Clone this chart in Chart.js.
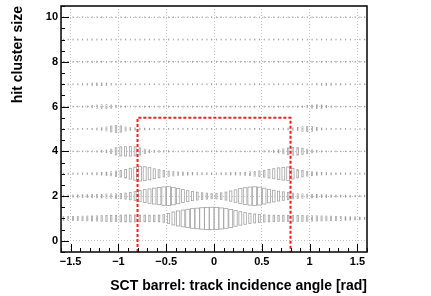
<!DOCTYPE html>
<html>
<head>
<meta charset="utf-8">
<script src="https://cdn.jsdelivr.net/npm/chart.js@4.4.1/dist/chart.umd.min.js"></script>
<style>
  body { margin: 0; background: #fff; }
  canvas { display: block; }
</style>
</head>
<body>
<canvas id="chart" width="431" height="296"></canvas>
<script>
// binning of the track incidence angle axis
const binLow = -1.6;
const binWidth = 0.05;

// box size (fraction of a full cell) per cluster size row, one value per angle bin
const size1 = [0.16, 0.17, 0.18, 0.19, 0.2, 0.21, 0.22, 0.23, 0.25, 0.26, 0.27, 0.28, 0.3, 0.31, 0.31, 0.31,
  0.3, 0.3, 0.29, 0.29, 0.3, 0.34, 0.45, 0.58, 0.67, 0.75, 0.82, 0.88, 0.92, 0.96, 0.99, 1.0,
  0.98, 0.94, 0.88, 0.8, 0.7, 0.6, 0.52, 0.46, 0.4, 0.35, 0.32, 0.3, 0.29, 0.28, 0.28, 0.28,
  0.27, 0.27, 0.26, 0.25, 0.24, 0.23, 0.22, 0.21, 0.2, 0.18, 0.17, 0.16, 0.15, 0.13, 0.12, 0.1];
const size2 = [0.08, 0.09, 0.1, 0.11, 0.12, 0.13, 0.14, 0.15, 0.16, 0.18, 0.19, 0.21, 0.24, 0.27, 0.33, 0.4,
  0.5, 0.58, 0.64, 0.71, 0.77, 0.82, 0.84, 0.78, 0.68, 0.58, 0.48, 0.41, 0.35, 0.3, 0.27, 0.24,
  0.25, 0.29, 0.36, 0.46, 0.56, 0.67, 0.75, 0.81, 0.83, 0.8, 0.71, 0.6, 0.52, 0.44, 0.38, 0.32,
  0.25, 0.21, 0.19, 0.17, 0.16, 0.14, 0.13, 0.12, 0.11, 0.1, 0.09, 0.09, 0.08, 0.07, 0.07, 0.06];
const size3 = [0.05, 0.05, 0.06, 0.06, 0.07, 0.08, 0.09, 0.1, 0.12, 0.15, 0.18, 0.24, 0.3, 0.38, 0.48, 0.58,
  0.66, 0.62, 0.54, 0.44, 0.36, 0.29, 0.23, 0.19, 0.16, 0.14, 0.12, 0.11, 0.1, 0.09, 0.09, 0.08,
  0.08, 0.09, 0.09, 0.1, 0.11, 0.12, 0.14, 0.17, 0.21, 0.25, 0.3, 0.38, 0.45, 0.52, 0.57, 0.6,
  0.48, 0.36, 0.28, 0.21, 0.17, 0.14, 0.11, 0.1, 0.09, 0.08, 0.07, 0.06, 0.06, 0.05, 0.05, 0.05];
const size4 = [0.03, 0.03, 0.03, 0.04, 0.04, 0.05, 0.05, 0.06, 0.08, 0.12, 0.2, 0.32, 0.4, 0.42, 0.42, 0.4,
  0.32, 0.2, 0.13, 0.1, 0.08, 0.07, 0.06, 0.05, 0.04, 0.04, 0.04, 0.04, 0.04, 0.04, 0.04, 0.04,
  0.04, 0.04, 0.04, 0.04, 0.04, 0.04, 0.04, 0.04, 0.04, 0.05, 0.06, 0.07, 0.09, 0.14, 0.22, 0.3,
  0.34, 0.33, 0.28, 0.2, 0.13, 0.08, 0.06, 0.05, 0.04, 0.04, 0.03, 0.03, 0.03, 0.03, 0.03, 0.03];
const size5 = [0.03, 0.03, 0.04, 0.04, 0.05, 0.05, 0.06, 0.08, 0.11, 0.18, 0.26, 0.3, 0.28, 0.18, 0.12, 0.09,
  0.08, 0.07, 0.06, 0.05, 0.05, 0.05, 0.05, 0.05, 0.05, 0.05, 0.05, 0.05, 0.05, 0.05, 0.05, 0.05,
  0.05, 0.05, 0.05, 0.05, 0.05, 0.05, 0.05, 0.05, 0.05, 0.05, 0.05, 0.05, 0.05, 0.06, 0.07, 0.08,
  0.1, 0.14, 0.2, 0.23, 0.21, 0.14, 0.09, 0.06, 0.05, 0.04, 0.04, 0.04, 0.03, 0.03, 0.03, 0.03];
const size6 = [0.03, 0.03, 0.04, 0.04, 0.05, 0.07, 0.1, 0.14, 0.17, 0.18, 0.15, 0.1, 0.07, 0.06, 0.05, 0.05,
  0.05, 0.05, 0.05, 0.05, 0.05, 0.05, 0.05, 0.05, 0.05, 0.05, 0.05, 0.05, 0.05, 0.05, 0.05, 0.05,
  0.05, 0.05, 0.05, 0.05, 0.05, 0.05, 0.05, 0.05, 0.05, 0.05, 0.05, 0.05, 0.05, 0.05, 0.05, 0.05,
  0.05, 0.05, 0.07, 0.1, 0.14, 0.16, 0.15, 0.1, 0.07, 0.05, 0.04, 0.04, 0.03, 0.03, 0.03, 0.03];
const size7 = [0.03, 0.04, 0.04, 0.05, 0.06, 0.08, 0.11, 0.12, 0.12, 0.1, 0.07, 0.05, 0.04, 0.04, 0.04, 0.04,
  0.04, 0.04, 0.04, 0.04, 0.04, 0.04, 0.04, 0.04, 0.04, 0.04, 0.04, 0.04, 0.04, 0.04, 0.04, 0.04,
  0.04, 0.04, 0.04, 0.04, 0.04, 0.04, 0.04, 0.04, 0.04, 0.04, 0.04, 0.04, 0.04, 0.04, 0.04, 0.04,
  0.04, 0.04, 0.04, 0.04, 0.05, 0.07, 0.09, 0.1, 0.09, 0.06, 0.05, 0.04, 0.04, 0.03, 0.03, 0.03];
const size8 = [0.03, 0.03, 0.04, 0.04, 0.05, 0.06, 0.07, 0.07, 0.06, 0.05, 0.04, 0.04, 0.04, 0.04, 0.04, 0.04,
  0.04, 0.04, 0.04, 0.04, 0.04, 0.04, 0.04, 0.04, 0.04, 0.04, 0.04, 0.04, 0.04, 0.04, 0.04, 0.04,
  0.04, 0.04, 0.04, 0.04, 0.04, 0.04, 0.04, 0.04, 0.04, 0.04, 0.04, 0.04, 0.04, 0.04, 0.04, 0.04,
  0.04, 0.04, 0.04, 0.04, 0.04, 0.04, 0.04, 0.05, 0.06, 0.05, 0.04, 0.04, 0.03, 0.03, 0.03, 0.03];
const size9 = [0.03, 0.04, 0.04, 0.04, 0.04, 0.05, 0.06, 0.05, 0.04, 0.04, 0.04, 0.04, 0.04, 0.04, 0.04, 0.04,
  0.04, 0.04, 0.04, 0.04, 0.04, 0.04, 0.04, 0.04, 0.04, 0.04, 0.04, 0.04, 0.04, 0.04, 0.04, 0.04,
  0.04, 0.04, 0.04, 0.04, 0.04, 0.04, 0.04, 0.04, 0.04, 0.04, 0.04, 0.04, 0.04, 0.04, 0.04, 0.04,
  0.04, 0.04, 0.04, 0.04, 0.04, 0.04, 0.04, 0.04, 0.05, 0.04, 0.04, 0.04, 0.04, 0.03, 0.03, 0.03];
const size10 = [0.03, 0.03, 0.03, 0.03, 0.03, 0.03, 0.03, 0.03, 0.03, 0.03, 0.03, 0.03, 0.03, 0.03, 0.03, 0.03,
  0.03, 0.03, 0.03, 0.03, 0.03, 0.03, 0.03, 0.03, 0.03, 0.03, 0.03, 0.03, 0.03, 0.03, 0.03, 0.03,
  0.03, 0.03, 0.03, 0.03, 0.03, 0.03, 0.03, 0.03, 0.03, 0.03, 0.03, 0.03, 0.03, 0.03, 0.03, 0.03,
  0.03, 0.03, 0.03, 0.03, 0.03, 0.03, 0.03, 0.03, 0.03, 0.03, 0.03, 0.03, 0.03, 0.03, 0.03, 0.03];

const clusterSizes = [1, 2, 3, 4, 5, 6, 7, 8, 9, 10];
const rowSizes = [size1, size2, size3, size4, size5, size6, size7, size8, size9, size10];

// red selection window
const cutX = [-0.8, -0.8, 0.8, 0.8];
const cutY = [-0.5, 5.5, 5.5, -0.5];

const xTicks = [-1.5, -1, -0.5, 0, 0.5, 1, 1.5];
const yTicks = [0, 2, 4, 6, 8, 10];

const boxPoints = [];
rowSizes.forEach((sizes, r) => {
  sizes.forEach((s, i) => {
    boxPoints.push({ x: binLow + binWidth * (i + 0.5), y: clusterSizes[r], size: s });
  });
});

const fontFamily = "'Liberation Sans', Arial, Helvetica, sans-serif";
const fmt = (v) => (v < 0 ? '\u2212' + Math.abs(v) : String(v));

// ROOT style boxes, sized on both axes by the bin content
const boxPlugin = {
  id: 'boxes',
  beforeDatasetsDraw(chart) {
    const { ctx, chartArea, scales: { x, y } } = chart;
    ctx.save();
    ctx.beginPath();
    ctx.rect(chartArea.left, chartArea.top, chartArea.right - chartArea.left, chartArea.bottom - chartArea.top);
    ctx.clip();
    ctx.strokeStyle = '#a2a2a2';
    ctx.lineWidth = 0.8;
    chart.data.datasets[0].data.forEach((p) => {
      const hw = 0.5 * binWidth * p.size;
      const hh = 0.5 * p.size;
      const x0 = x.getPixelForValue(p.x - hw);
      const x1 = x.getPixelForValue(p.x + hw);
      const y0 = y.getPixelForValue(p.y + hh);
      const y1 = y.getPixelForValue(p.y - hh);
      ctx.strokeRect(x0, y0, Math.max(x1 - x0, 0.3), Math.max(y1 - y0, 0.3));
    });
    ctx.restore();
  },
  afterDraw(chart) {
    const { ctx, chartArea: a, scales: { x, y } } = chart;
    ctx.save();
    ctx.strokeStyle = '#000';
    ctx.lineWidth = 1;
    ctx.beginPath();
    // x ticks, inside the frame
    for (let v = -1.6; v <= 1.6001; v += 0.1) {
      const major = xTicks.some((t) => Math.abs(t - v) < 1e-6);
      const px = Math.round(x.getPixelForValue(v)) + 0.5;
      ctx.moveTo(px, a.bottom);
      ctx.lineTo(px, a.bottom - (major ? 8 : 4));
    }
    // y ticks
    for (let v = -0.5; v <= 10.5001; v += 0.5) {
      const major = yTicks.some((t) => Math.abs(t - v) < 1e-6);
      const py = Math.round(y.getPixelForValue(v)) + 0.5;
      ctx.moveTo(a.left, py);
      ctx.lineTo(a.left + (major ? 8 : 4), py);
    }
    ctx.stroke();
    ctx.lineWidth = 1.6;
    ctx.strokeStyle = '#111';
    ctx.strokeRect(a.left, a.top, a.right - a.left, a.bottom - a.top);
    ctx.restore();
  }
};

new Chart(document.getElementById('chart'), {
  type: 'scatter',
  data: {
    datasets: [
      {
        label: 'hits',
        data: boxPoints,
        pointRadius: 0,
        pointHoverRadius: 0
      },
      {
        label: 'cut',
        type: 'line',
        data: cutX.map((v, i) => ({ x: v, y: cutY[i] })),
        borderColor: '#ff1a1a',
        borderWidth: 2,
        borderDash: [3, 2],
        pointRadius: 0,
        fill: false,
        tension: 0
      }
    ]
  },
  options: {
    responsive: false,
    animation: false,
    devicePixelRatio: 1,
    layout: { padding: { left: 2, right: 64, top: 6, bottom: 0 } },
    plugins: {
      legend: { display: false },
      tooltip: { enabled: false }
    },
    scales: {
      x: {
        type: 'linear',
        min: -1.6,
        max: 1.6,
        afterBuildTicks: (s) => { s.ticks = xTicks.map((v) => ({ value: v })); },
        ticks: {
          callback: fmt,
          color: '#000',
          font: { family: fontFamily, size: 11, weight: 'bold' },
          padding: 3,
          maxRotation: 0,
          autoSkip: false
        },
        grid: { color: '#c4c4c4', lineWidth: 1, drawTicks: false },
        border: { display: false, dash: [1, 2] },
        title: {
          display: true,
          text: 'SCT barrel: track incidence angle [rad]',
          align: 'end',
          color: '#000',
          font: { family: fontFamily, size: 14, weight: 'bold' },
          padding: { top: 7, bottom: 1 }
        }
      },
      y: {
        type: 'linear',
        min: -0.5,
        max: 10.5,
        afterBuildTicks: (s) => { s.ticks = yTicks.map((v) => ({ value: v })); },
        // the top label sits below the frame edge, no extra room needed
        afterFit: (s) => { s.paddingTop = 0; },
        ticks: {
          callback: fmt,
          color: '#000',
          font: { family: fontFamily, size: 11, weight: 'bold' },
          padding: 3
        },
        grid: { color: '#c4c4c4', lineWidth: 1, drawTicks: false },
        border: { display: false, dash: [1, 2] },
        title: {
          display: true,
          text: 'hit cluster size',
          align: 'end',
          color: '#000',
          font: { family: fontFamily, size: 14, weight: 'bold' },
          padding: { top: 8, bottom: 16 }
        }
      }
    }
  },
  plugins: [boxPlugin]
});
</script>
</body>
</html>
